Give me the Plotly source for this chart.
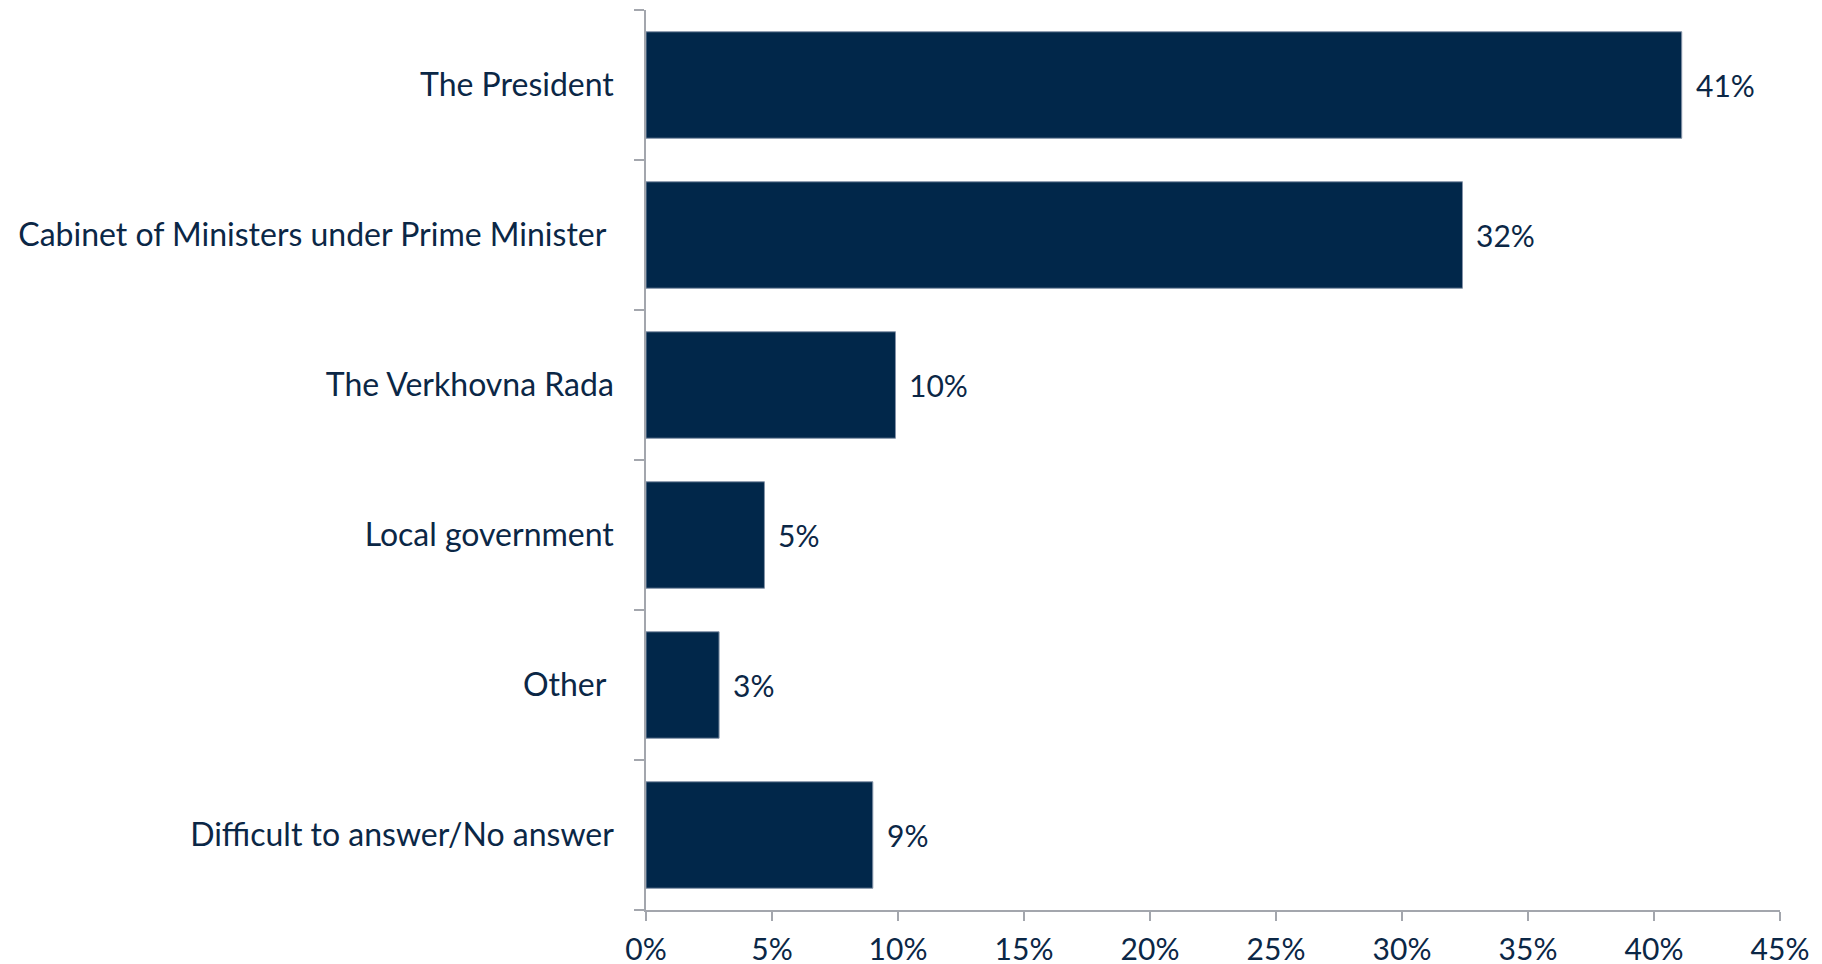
import plotly.graph_objects as go

categories = [
    "The President",
    "Cabinet of Ministers under Prime Minister\u00a0",
    "The Verkhovna Rada",
    "Local government",
    "Other\u00a0",
    "Difficult to answer/No answer",
]
values = [41.1, 32.4, 9.9, 4.7, 2.9, 9.0]
value_labels = ["41%", "32%", "10%", "5%", "3%", "9%"]
x_ticks = [0, 5, 10, 15, 20, 25, 30, 35, 40, 45]
x_tick_labels = [f"{t}%" for t in x_ticks]

BAR = "#01274a"
TXT = "#0b2746"
AX = "#a3a6ad"
FONT = "Lato"
FS_CAT = 32
FS_NUM = 30

fig = go.Figure()
fig.add_trace(go.Bar(
    y=categories,
    x=values,
    orientation="h",
    marker=dict(color=BAR, line=dict(color="#8493a8", width=1)),
    hoverinfo="skip",
))

for c, v, lab in zip(categories, values, value_labels):
    fig.add_annotation(
        x=v, y=c, xref="x", yref="y", text=lab, showarrow=False,
        xanchor="left", yanchor="middle", xshift=12,
        font=dict(family=FONT, size=FS_NUM, color=TXT),
    )

fig.update_layout(
    width=1814, height=956,
    margin=dict(l=638, r=42, t=2, b=54, autoexpand=False),
    paper_bgcolor="white", plot_bgcolor="white",
    bargap=0.29,
    showlegend=False,
    font=dict(family=FONT, size=FS_CAT, color=TXT),
)
fig.update_xaxes(
    range=[0, 45], tickvals=x_ticks, ticktext=x_tick_labels,
    showgrid=False, zeroline=False,
    showline=True, linecolor=AX, linewidth=1.5,
    ticks="outside", ticklen=9, tickcolor=AX, tickwidth=1.5,
    tickfont=dict(family=FONT, size=FS_NUM, color=TXT),
    ticklabelstandoff=3,
)
fig.update_yaxes(
    categoryorder="array", categoryarray=categories[::-1],
    showgrid=False, zeroline=False,
    showline=True, linecolor=AX, linewidth=1.5,
    ticks="outside", ticklen=10, tickcolor=AX, tickwidth=1.5,
    tickson="boundaries",
    tickfont=dict(family=FONT, size=FS_CAT, color=TXT),
    ticklabelstandoff=24,
)

fig.write_html("out.html")
